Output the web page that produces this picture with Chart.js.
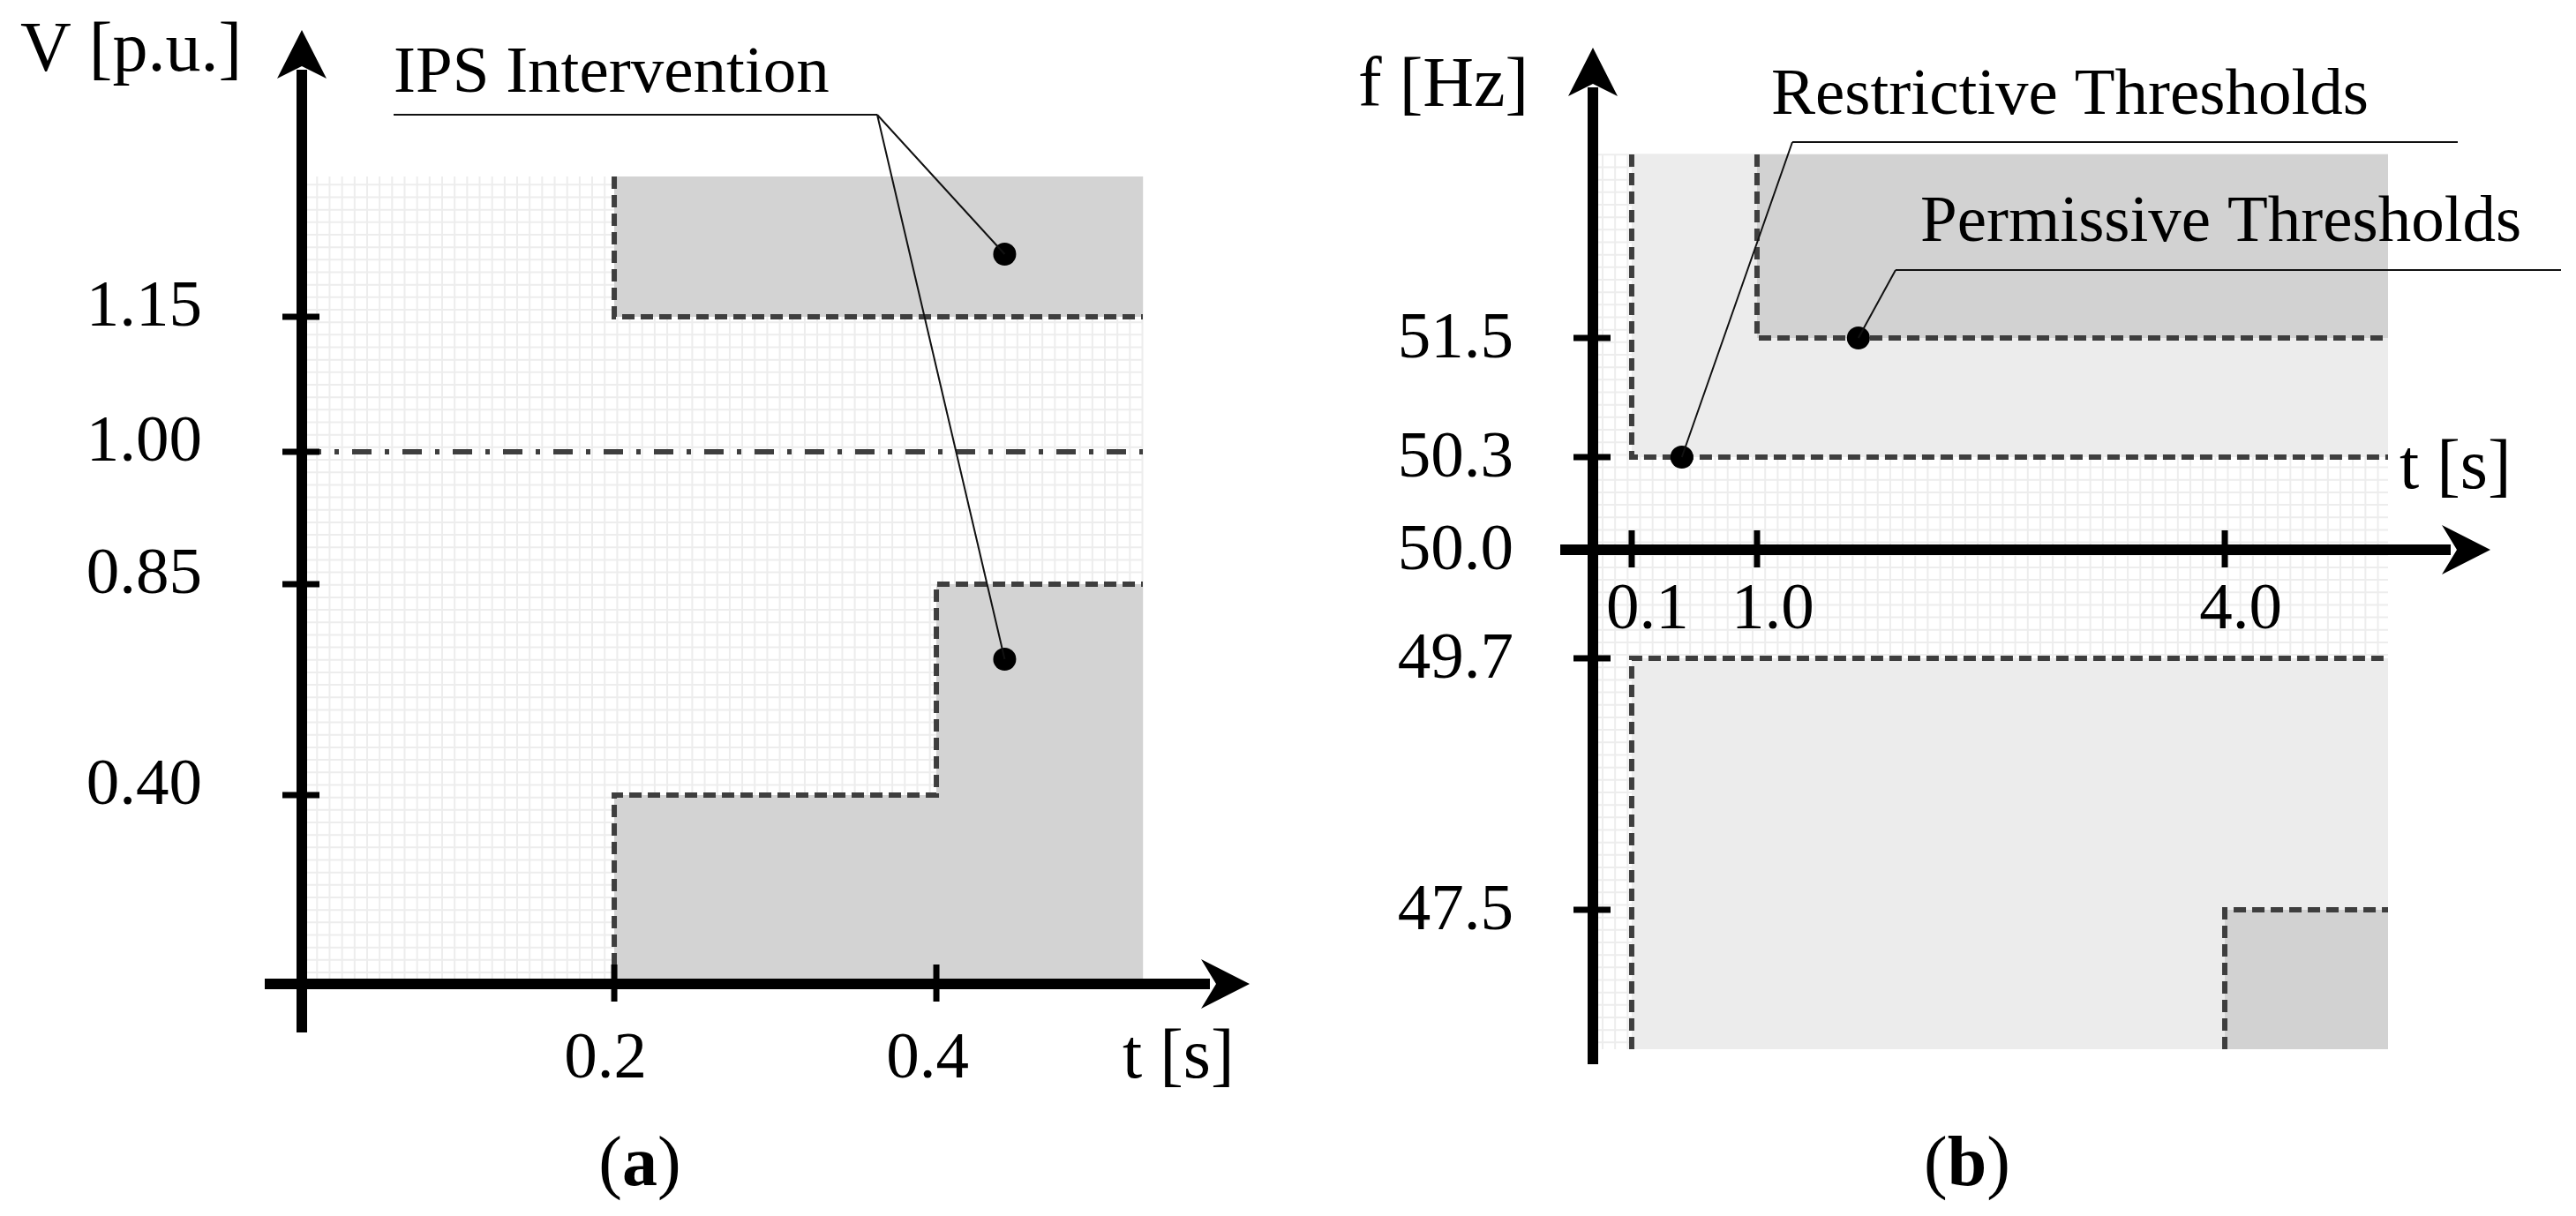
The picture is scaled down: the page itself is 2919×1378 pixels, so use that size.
<!DOCTYPE html>
<html>
<head>
<meta charset="utf-8">
<script src="https://cdn.jsdelivr.net/npm/chart.js@4.4.0/dist/chart.umd.min.js"></script>
<style>
  html, body { margin: 0; padding: 0; background: #fff; }
  #wrap { position: relative; width: 2919px; height: 1378px; }
  canvas { position: absolute; top: 0; }
  #cA { left: 0; }
  #cB { left: 1459px; }
</style>
</head>
<body>
<div id="wrap">
  <canvas id="cA" width="1459" height="1378"></canvas>
  <canvas id="cB" width="1460" height="1378"></canvas>
</div>
<script>
// ---- panel (a): voltage thresholds ----
const vTickVals = [0.40, 0.85, 1.00, 1.15];
const vTickLabels = ['0.40', '0.85', '1.00', '1.15'];
const tTickValsA = [0.2, 0.4];
const tTickLabelsA = ['0.2', '0.4'];
const vUpperT = [0.2, 0.2, 0.53];
const vUpperV = [1.3, 1.15, 1.15];
const vLowerT = [0.2, 0.2, 0.4, 0.4, 0.53];
const vLowerV = [0, 0.40, 0.40, 0.85, 0.85];
const vNominalT = [0, 0.53];
const vNominalV = [1.00, 1.00];
const ipsDotT = [0.443, 0.443];
const ipsDotV = [1.217, 0.69];

// ---- panel (b): frequency thresholds ----
const fTickVals = [47.5, 49.7, 50.0, 50.3, 51.5];
const fTickLabels = ['47.5', '49.7', '50.0', '50.3', '51.5'];
const tTickValsB = [0.1, 1.0, 4.0];
const tTickLabelsB = ['0.1', '1.0', '4.0'];
const restrUpperT = [0.1, 0.1, 5.0];
const restrUpperF = [52.5, 50.3, 50.3];
const permUpperT = [1.0, 1.0, 5.0];
const permUpperF = [52.5, 51.5, 51.5];
const restrLowerT = [0.1, 0.1, 5.0];
const restrLowerF = [46.5, 49.7, 49.7];
const permLowerT = [4.0, 4.0, 5.0];
const permLowerF = [46.5, 47.5, 47.5];
const threshDotT = [0.46, 1.65];
const threshDotF = [50.3, 51.5];

const FONT = '"Liberation Serif", "Times New Roman", serif';
const DASH = '#3e3e3e';
const GRID = '#ededed';

const pts = (xs, ys) => xs.map((x, i) => ({x: x, y: ys[i]}));

// schematic axis: linear scale bent piecewise between given stops
class WarpScale extends Chart.LinearScale {
  static id = 'warp';
  _frac(v) {
    const s = this.options.stops, f = this.options.at;
    let i = 0;
    while (i < s.length - 2 && v > s[i + 1]) i++;
    return f[i] + (v - s[i]) / (s[i + 1] - s[i]) * (f[i + 1] - f[i]);
  }
  getPixelForValue(v) {
    return this.getPixelForDecimal(this._frac(v));
  }
  getValueForPixel(p) {
    const d = this.getDecimalForPixel(p);
    const s = this.options.stops, f = this.options.at;
    let i = 0;
    while (i < f.length - 2 && d > f[i + 1]) i++;
    return s[i] + (d - f[i]) / (f[i + 1] - f[i]) * (s[i + 1] - s[i]);
  }
}
Chart.register(WarpScale);

function drawGrid(chart, ox, oy) {
  const {ctx, chartArea: a} = chart;
  ctx.save();
  ctx.strokeStyle = GRID;
  ctx.lineWidth = 2;
  ctx.beginPath();
  for (let x = a.left + ox; x < a.right; x += 14.17) { ctx.moveTo(x, a.top); ctx.lineTo(x, a.bottom); }
  for (let y = a.top + oy; y < a.bottom; y += 14.17) { ctx.moveTo(a.left, y); ctx.lineTo(a.right, y); }
  ctx.stroke();
  ctx.restore();
}

function arrowUp(ctx, x, tip) {
  ctx.beginPath();
  ctx.moveTo(x, tip);
  ctx.lineTo(x + 28, tip + 55);
  ctx.lineTo(x, tip + 41);
  ctx.lineTo(x - 28, tip + 55);
  ctx.closePath();
  ctx.fill();
}

function arrowRight(ctx, tip, y) {
  ctx.beginPath();
  ctx.moveTo(tip, y);
  ctx.lineTo(tip - 55, y - 28);
  ctx.lineTo(tip - 38, y);
  ctx.lineTo(tip - 55, y + 28);
  ctx.closePath();
  ctx.fill();
}

function drawAxes(chart, o) {
  const {ctx, chartArea: a, scales: {x, y}} = chart;
  const x0 = x.getPixelForValue(0), y0 = y.getPixelForValue(o.xAxisAt);
  ctx.save();
  ctx.fillStyle = '#000';
  ctx.strokeStyle = '#000';
  ctx.lineWidth = 12;
  ctx.beginPath();
  ctx.moveTo(x0, a.bottom + o.yBelow); ctx.lineTo(x0, a.top - o.yTip + 45);
  ctx.moveTo(x0 - o.xLeft, y0); ctx.lineTo(a.right + o.xTip - 45, y0);
  ctx.stroke();
  arrowUp(ctx, x0, a.top - o.yTip);
  arrowRight(ctx, a.right + o.xTip, y0);

  ctx.lineWidth = 7;
  ctx.beginPath();
  o.yTicks.forEach(v => {
    if (v === o.xAxisAt) return;
    const py = y.getPixelForValue(v);
    ctx.moveTo(x0 - 22, py); ctx.lineTo(x0 + 20, py);
  });
  o.xTicks.forEach(v => {
    const px = x.getPixelForValue(v);
    ctx.moveTo(px, y0 - 22); ctx.lineTo(px, y0 + 20);
  });
  ctx.stroke();

  ctx.font = '75px ' + FONT;
  ctx.textBaseline = 'alphabetic';
  ctx.textAlign = 'right';
  o.yTicks.forEach((v, i) => {
    ctx.fillText(o.yLabels[i], x0 - o.yLabelGap, y.getPixelForValue(v) + o.yLabelDy);
  });
  ctx.textAlign = 'center';
  o.xTicks.forEach((v, i) => {
    ctx.fillText(o.xLabels[i], x.getPixelForValue(v) + o.xLabelDx, y0 + o.xLabelDy);
  });
  ctx.restore();
}

function text(ctx, s, x, y, size, align) {
  ctx.save();
  ctx.fillStyle = '#000';
  ctx.font = size + 'px ' + FONT;
  ctx.textAlign = align || 'left';
  ctx.textBaseline = 'alphabetic';
  ctx.fillText(s, x, y);
  ctx.restore();
}

function panelTag(ctx, letter, cx, base) {
  ctx.save();
  ctx.fillStyle = '#000';
  ctx.textBaseline = 'alphabetic';
  ctx.font = '80px ' + FONT;
  const wp = ctx.measureText('(').width;
  ctx.font = 'bold 80px ' + FONT;
  const wl = ctx.measureText(letter).width;
  let x = cx - (2 * wp + wl) / 2;
  ctx.font = '80px ' + FONT;
  ctx.fillText('(', x, base); x += wp;
  ctx.font = 'bold 80px ' + FONT;
  ctx.fillText(letter, x, base); x += wl;
  ctx.font = '80px ' + FONT;
  ctx.fillText(')', x, base);
  ctx.restore();
}

function leader(ctx, ux0, ux1, uy, ax, targets) {
  ctx.save();
  ctx.strokeStyle = '#111';
  ctx.lineWidth = 2;
  ctx.beginPath();
  ctx.moveTo(ux0, uy); ctx.lineTo(ux1, uy);
  targets.forEach(t => { ctx.moveTo(ax, uy); ctx.lineTo(t.x, t.y); });
  ctx.stroke();
  ctx.restore();
}

const decorA = {
  id: 'decorA',
  beforeDatasetsDraw(chart) { drawGrid(chart, 17.3, 9.3); },
  afterDraw(chart) {
    const ctx = chart.ctx;
    const {x, y} = chart.scales;
    drawAxes(chart, {
      xAxisAt: 0, yBelow: 55, yTip: 166, xLeft: 42, xTip: 121,
      yTicks: vTickVals, yLabels: vTickLabels, yLabelGap: 113, yLabelDy: 10,
      xTicks: tTickValsA, xLabels: tTickLabelsA, xLabelDx: -10, xLabelDy: 106
    });
    text(ctx, 'V [p.u.]', 23, 80, 80);
    text(ctx, 't [s]', 1272, 1221, 80);
    text(ctx, 'IPS Intervention', 446, 104, 75);
    leader(ctx, 446, 994, 130, 994,
      ipsDotT.map((t, i) => ({x: x.getPixelForValue(t), y: y.getPixelForValue(ipsDotV[i])})));
    panelTag(ctx, 'a', 725, 1343);
  }
};

const decorB = {
  id: 'decorB',
  beforeDatasetsDraw(chart) { drawGrid(chart, 11, 0.3); },
  afterDraw(chart) {
    const ctx = chart.ctx;
    const {x, y} = chart.scales;
    drawAxes(chart, {
      xAxisAt: 50.0, yBelow: 17, yTip: 121, xLeft: 37, xTip: 116,
      yTicks: fTickVals, yLabels: fTickLabels, yLabelGap: 90, yLabelDy: 22,
      xTicks: tTickValsB, xLabels: tTickLabelsB, xLabelDx: 18, xLabelDy: 89
    });
    text(ctx, 'f [Hz]', 80, 120, 80);
    text(ctx, 't [s]', 1260, 553, 80);
    text(ctx, 'Restrictive Thresholds', 548, 129, 75);
    text(ctx, 'Permissive Thresholds', 717, 273, 75);
    leader(ctx, 572, 1326, 161, 572,
      [{x: x.getPixelForValue(threshDotT[0]), y: y.getPixelForValue(threshDotF[0])}]);
    leader(ctx, 689, 1443, 306, 689,
      [{x: x.getPixelForValue(threshDotT[1]), y: y.getPixelForValue(threshDotF[1])}]);
    panelTag(ctx, 'b', 770, 1343);
  }
};

// lower "order" is drawn on top
const region = (data, fill, color, order) => ({
  data: data, fill: fill, backgroundColor: color, order: order,
  borderColor: DASH, borderWidth: 6, borderDash: [14, 7], pointRadius: 0
});
const dots = data => ({
  data: data, showLine: false, pointRadius: 13, order: 0,
  pointBackgroundColor: '#000', pointBorderColor: '#000', pointBorderWidth: 0
});
const baseOptions = (padding, xs, ys) => ({
  responsive: false,
  animation: false,
  events: [],
  layout: {padding: padding},
  elements: {line: {tension: 0}},
  plugins: {legend: {display: false}, tooltip: {enabled: false}},
  scales: {x: xs, y: ys}
});

new Chart(document.getElementById('cA'), {
  type: 'line',
  data: {
    datasets: [
      region(pts(vUpperT, vUpperV), 'end', '#d3d3d3', 2),
      region(pts(vLowerT, vLowerV), 'start', '#d3d3d3', 2),
      {data: pts(vNominalT, vNominalV), fill: false, borderColor: DASH, borderWidth: 6,
       borderDash: [22, 15, 5, 15], pointRadius: 0, order: 1},
      dots(pts(ipsDotT, ipsDotV))
    ]
  },
  options: baseOptions({left: 342, right: 164, top: 200, bottom: 263},
    {type: 'warp', display: false, min: 0, max: 0.53,
     stops: [0, 0.2, 0.4, 0.53], at: [0, 0.3715, 0.7545, 1]},
    {type: 'warp', display: false, min: 0, max: 1.3,
     stops: [0, 0.40, 0.85, 1.00, 1.15, 1.3], at: [0, 0.2339, 0.4951, 0.659, 0.8262, 1]}),
  plugins: [decorA]
});

new Chart(document.getElementById('cB'), {
  type: 'line',
  data: {
    datasets: [
      region(pts(restrUpperT, restrUpperF), 'end', '#ececec', 2),
      region(pts(permUpperT, permUpperF), 'end', '#d2d2d2', 1),
      region(pts(restrLowerT, restrLowerF), 'start', '#ececec', 2),
      region(pts(permLowerT, permLowerF), 'start', '#d2d2d2', 1),
      dots(pts(threshDotT, threshDotF))
    ]
  },
  options: baseOptions({left: 346, right: 213, top: 175, bottom: 189},
    {type: 'warp', display: false, min: 0, max: 5.0,
     stops: [0, 0.1, 1.0, 4.0, 5.0], at: [0, 0.0488, 0.2064, 0.7947, 1]},
    {type: 'warp', display: false, min: 46.5, max: 52.5,
     stops: [46.5, 47.5, 49.7, 50.0, 50.3, 51.5, 52.5], at: [0, 0.1558, 0.4369, 0.5582, 0.6617, 0.7949, 1]}),
  plugins: [decorB]
});
</script>
</body>
</html>
